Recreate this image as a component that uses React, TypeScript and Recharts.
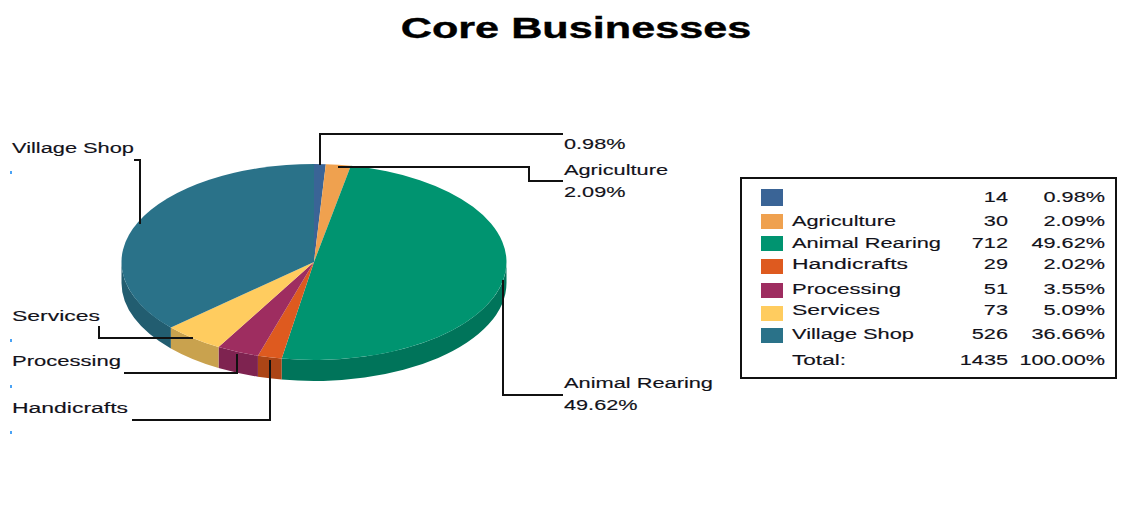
import React from "react";
import { Cell, Pie, PieChart } from "recharts";

const names = ["", "Agriculture", "Animal Rearing", "Handicrafts", "Processing", "Services", "Village Shop"];
const counts = [14, 30, 712, 29, 51, 73, 526];
const shares = ["0.98%", "2.09%", "49.62%", "2.02%", "3.55%", "5.09%", "36.66%"];
const colors = ["#3A6496", "#EFA14F", "#009470", "#DE5A1F", "#9E2D60", "#FFCC5F", "#2A7289"];
const wallColors = ["#2E5078", "#C0813F", "#00745A", "#AB4516", "#7E2350", "#C9A24E", "#225D70"];
const totalCount = "1435";
const totalShare = "100.00%";

const tableData = names.map((name, i) => ({ name, value: counts[i] }));

const FONT = "'Liberation Sans', Arial, sans-serif";
const TEXT_COLOR = "#12121a";
const TEXT_STRETCH = 1.4;

// pie geometry: the top face is an ellipse, the rim hangs below it
const CX = 314;
const CY = 262;
const RX = 192.5;
const RY = 98;
const DEPTH = 21;

// callout placement per slice
const callouts = [
  { line: "320,165 320,134 563,134", x: 564, lines: [149], dot: null },
  { line: "338,167 529,167 529,181 563,181", x: 564, lines: [175, 197], dot: null },
  { line: "503,280 503,395 563,395", x: 564, lines: [388, 410], dot: null },
  { line: "270,360 270,420 132,420", x: 12, lines: [413], dot: 432 },
  { line: "237,354 237,373 124,373", x: 12, lines: [366], dot: 386 },
  { line: "193,338 99,338 99,326", x: 12, lines: [321], dot: 340 },
  { line: "140,224 140,160 134,160", x: 12, lines: [153], dot: 172 },
];

// legend rows; name widths keep the wide bitmap-style lettering
const legendBaselines = [202, 226, 248, 269, 294, 315, 339];
const legendSwatchTops = [189, 214, 236, 259, 283, 306, 328];
const nameWidths = [0, 104, 149, 116, 109, 88, 122];

function Stretched({ x, y, children, anchor = "start", size = 15.5, bold = false, sx = TEXT_STRETCH, width }: any) {
  const fit = width ? { textLength: width, lengthAdjust: "spacingAndGlyphs" } : {};
  return (
    <text
      transform={width ? `translate(${x} ${y})` : `translate(${x} ${y}) scale(${sx} 1)`}
      textAnchor={anchor}
      fontFamily={FONT}
      fontSize={size}
      fontWeight={bold ? 700 : 400}
      fill={bold ? "#000" : TEXT_COLOR}
      stroke={bold ? "#000" : TEXT_COLOR}
      strokeWidth={bold ? 0.4 : 0.15}
      {...fit}
    >
      {children}
    </text>
  );
}

function pt(angle: number, dy = 0) {
  const rad = (angle * Math.PI) / 180;
  return `${CX + RX * Math.cos(rad)} ${CY - RY * Math.sin(rad) + dy}`;
}

function Slice3D(props: any) {
  const { startAngle, endAngle, fill } = props;
  const idx = colors.indexOf(fill);
  const large = Math.abs(startAngle - endAngle) > 180 ? 1 : 0;
  const top = `M ${CX} ${CY} L ${pt(startAngle)} A ${RX} ${RY} 0 ${large} 1 ${pt(endAngle)} Z`;

  // only the front half of the arc shows a rim
  const a = Math.min(startAngle, 0);
  const b = Math.max(endAngle, -180);
  const wall =
    a > b
      ? `M ${pt(a)} A ${RX} ${RY} 0 0 1 ${pt(b)} L ${pt(b, DEPTH)} A ${RX} ${RY} 0 0 0 ${pt(a, DEPTH)} Z`
      : null;

  return (
    <g>
      {wall && <path d={wall} fill={wallColors[idx]} />}
      <path d={top} fill={fill} />
    </g>
  );
}

function renderCallout(props: any) {
  const i = props.index;
  const c = callouts[i];
  const texts = i === 0 ? [shares[i]] : c.lines.length > 1 ? [names[i], shares[i]] : [names[i]];
  return (
    <g key={i}>
      <polyline points={c.line} fill="none" stroke="#111" strokeWidth={2} />
      {texts.map((t, j) => (
        <Stretched key={j} x={c.x} y={c.lines[j]} width={t === names[i] ? nameWidths[i] : undefined}>
          {t}
        </Stretched>
      ))}
      {c.dot !== null && <rect x={10} y={c.dot - 1} width={2} height={3} fill="#4AA3F5" />}
    </g>
  );
}

export default function App() {
  return (
    <div style={{ position: "absolute", left: 0, top: 0, width: 1136, height: 510, background: "#fff" }}>
      <PieChart width={1136} height={510} margin={{ top: 0, right: 0, bottom: 0, left: 0 }}>
        <Stretched x={576} y={38} anchor="middle" size={30} bold sx={1.44}>
          Core Businesses
        </Stretched>
        <Pie
          data={tableData}
          dataKey="value"
          nameKey="name"
          cx={CX}
          cy={CY}
          outerRadius={RX}
          startAngle={90}
          endAngle={-270}
          stroke="none"
          shape={Slice3D}
          label={renderCallout}
          labelLine={false}
          isAnimationActive={false}
        >
          {tableData.map((d, i) => (
            <Cell key={`cell-${i}`} fill={colors[i]} />
          ))}
        </Pie>
        <g>
          <rect x={741} y={178} width={375} height={200} fill="none" stroke="#111" strokeWidth={2} />
          {names.map((name, i) => (
            <g key={`row-${i}`}>
              <rect x={761} y={legendSwatchTops[i]} width={22} height={i === 0 ? 17 : 15} fill={colors[i]} />
              {name && (
                <Stretched x={792} y={legendBaselines[i]} width={nameWidths[i]}>
                  {name}
                </Stretched>
              )}
              <Stretched x={1008} y={legendBaselines[i]} anchor="end">
                {counts[i]}
              </Stretched>
              <Stretched x={1105} y={legendBaselines[i]} anchor="end">
                {shares[i]}
              </Stretched>
            </g>
          ))}
          <Stretched x={792} y={365} width={54}>
            Total:
          </Stretched>
          <Stretched x={1008} y={365} anchor="end">
            {totalCount}
          </Stretched>
          <Stretched x={1105} y={365} anchor="end">
            {totalShare}
          </Stretched>
        </g>
      </PieChart>
    </div>
  );
}
